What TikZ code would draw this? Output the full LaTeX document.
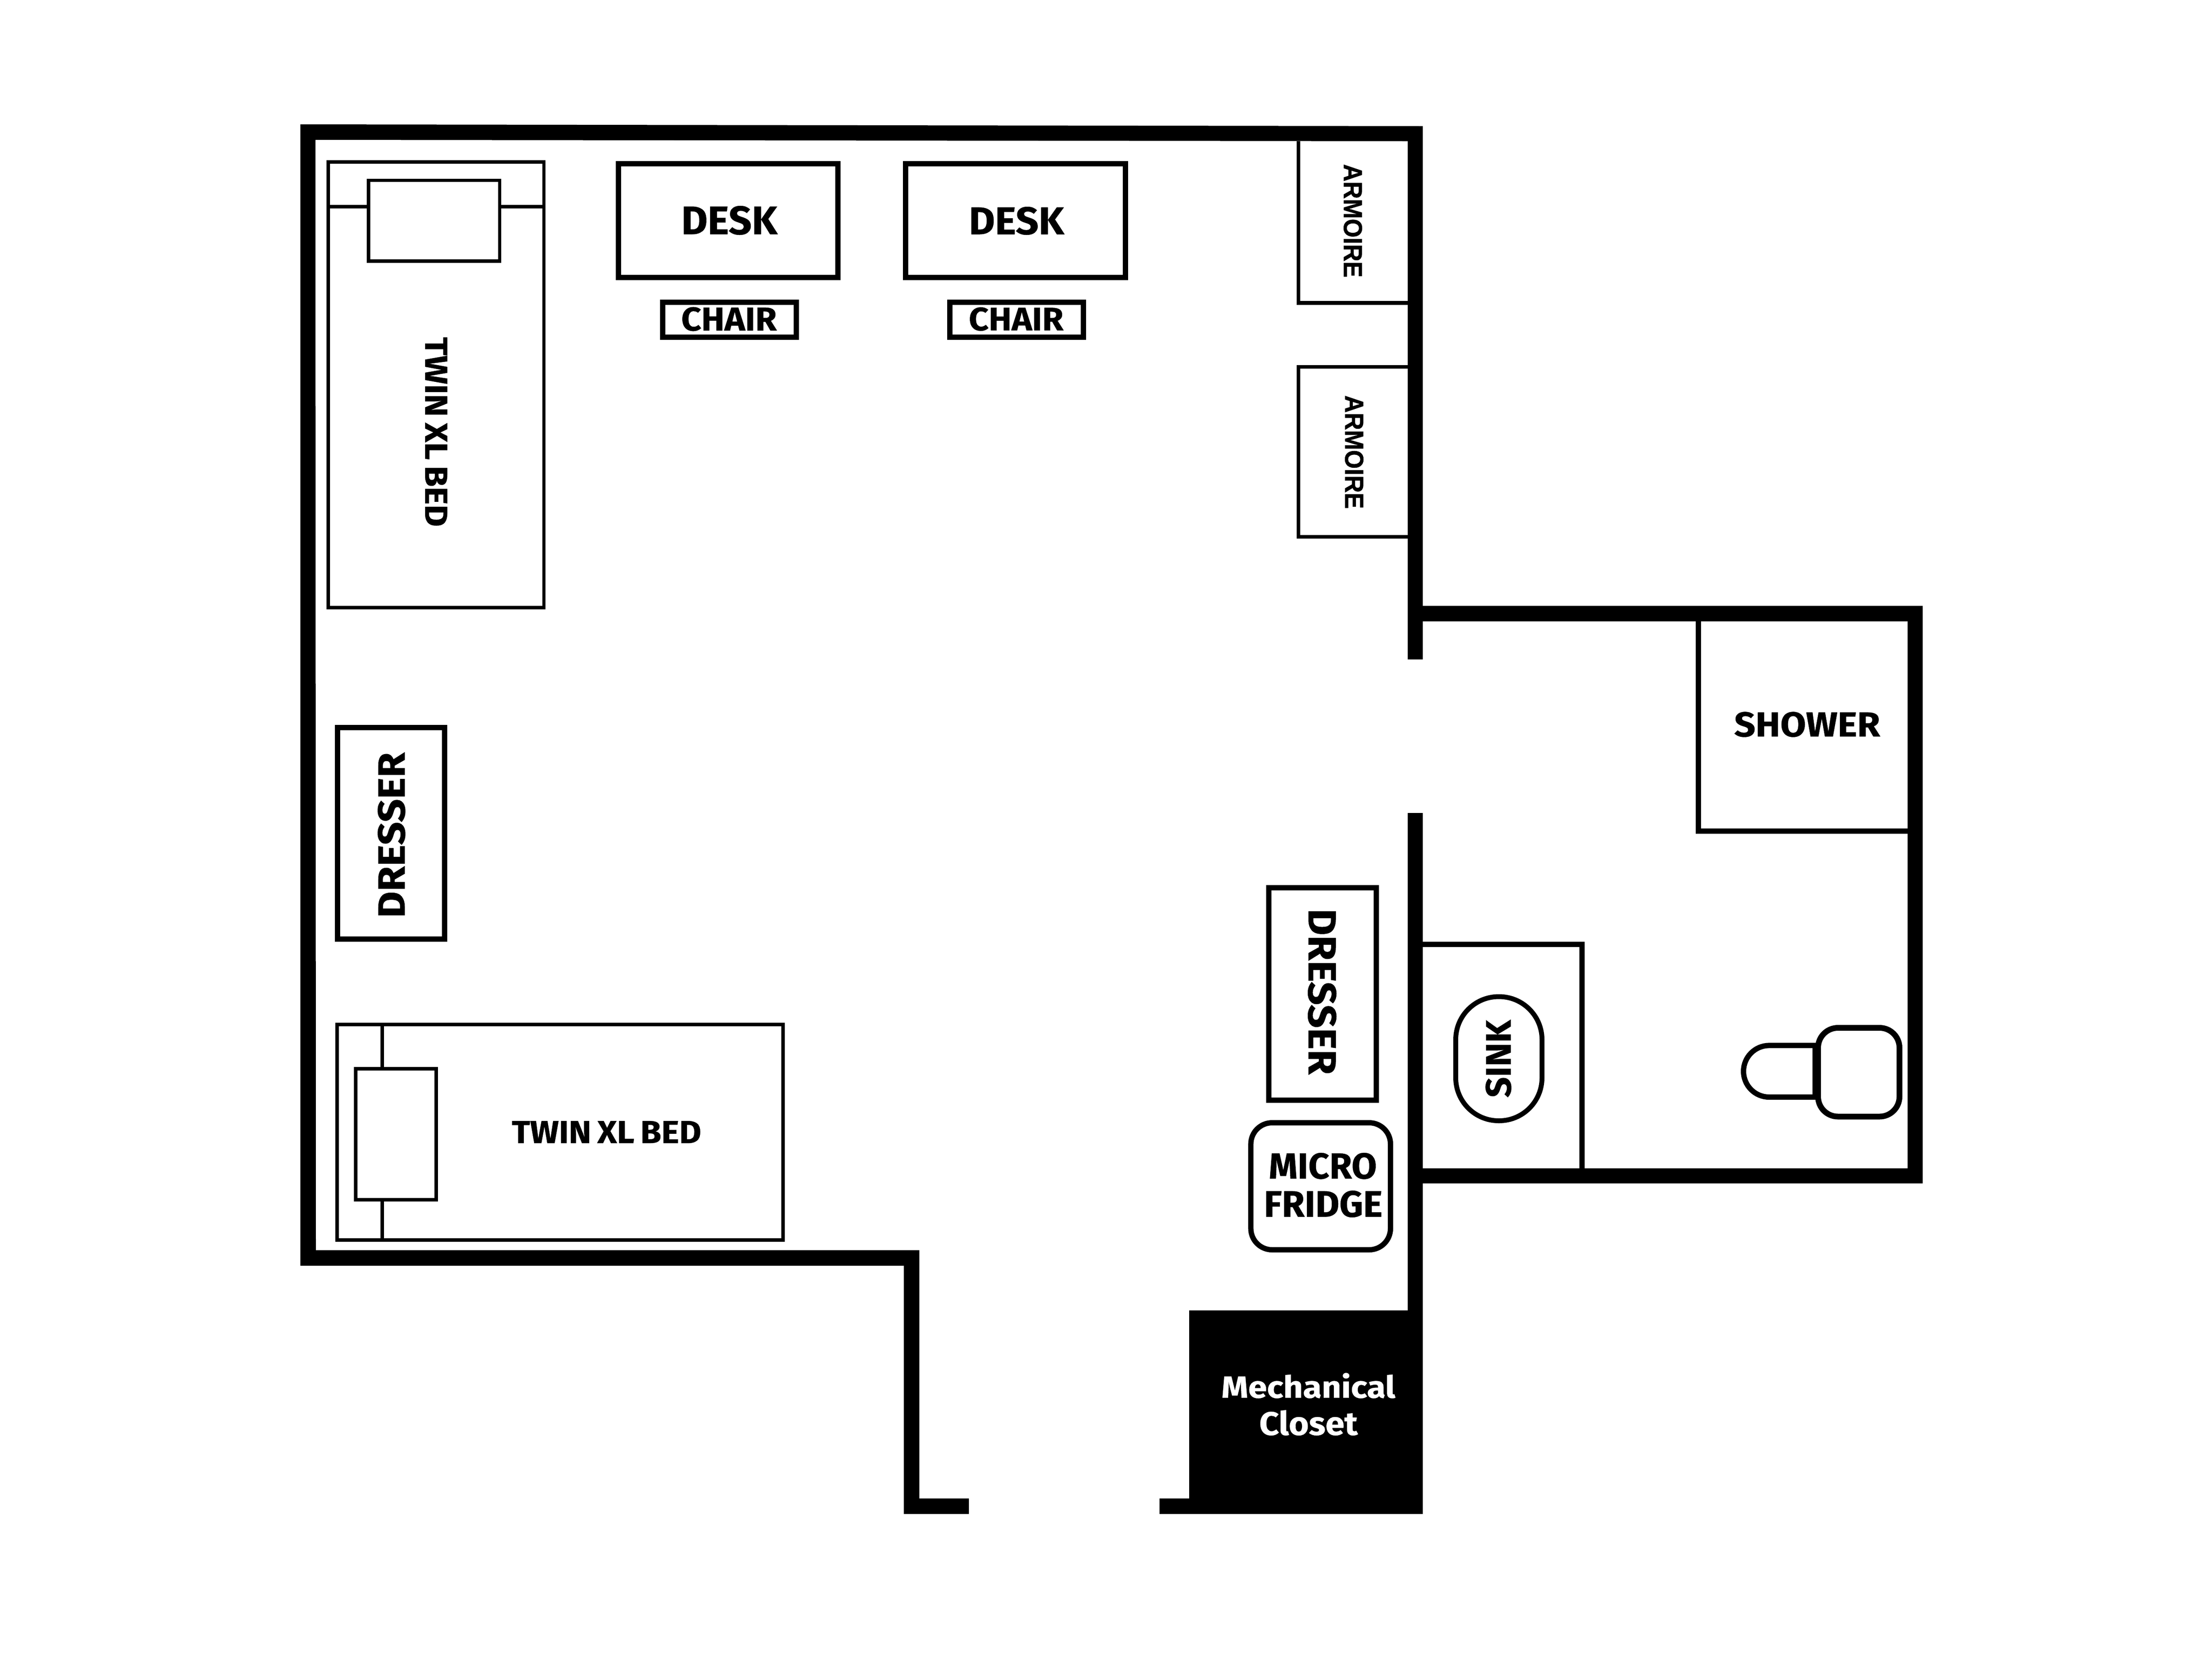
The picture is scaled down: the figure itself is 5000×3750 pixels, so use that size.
\documentclass[tikz,border=0pt]{standalone}
\usepackage{fontspec}
\usepackage{graphicx}
\setmainfont[BoldFeatures={FakeBold=0.5},WordSpace=0.75]{Fira Sans}
\newfontfamily\armfont[BoldFeatures={FakeBold=1.2}]{Liberation Sans}
\newcommand{\lbl}[3]{\resizebox{#1cm}{#2cm}{\textbf{#3}}}
\newcommand{\armlbl}[3]{\resizebox{#1cm}{#2cm}{\armfont\textbf{#3}}}
\tikzset{
  wallfill/.style={fill=black,draw=none},
  thinline/.style={draw=black,line width=0.075cm,line join=miter},
  midline/.style={draw=black,line width=0.12cm,line join=miter},
  labeltext/.style={inner sep=0pt,outer sep=0pt,anchor=center,text=black},
  whitetext/.style={inner sep=0pt,outer sep=0pt,anchor=center,text=white}
}
\begin{document}
\begin{tikzpicture}[x=0.01cm,y=-0.01cm]
\useasboundingbox (0,0) rectangle (5000,3750);
\fill[white] (0,0) rectangle (5000,3750);

% walls
\path[wallfill] (679,281) -- (3216,285) -- (3216,1490) -- (3182,1490) -- (3182,319) -- (713,316)
  -- (714,2825) -- (2078,2825) -- (2078,3386) -- (2190,3386) -- (2190,3421) -- (2043,3421)
  -- (2043,2860) -- (679,2860) -- cycle;
\path[wallfill] (3182,1837) -- (3216,1837) -- (3216,3421) -- (2621,3421) -- (2621,3386)
  -- (2688,3386) -- (2688,2961) -- (3182,2961) -- cycle;
\path[wallfill] (3216,1369) -- (4346,1369) -- (4346,2674) -- (3216,2674) -- (3216,2640)
  -- (4312,2640) -- (4312,1404) -- (3216,1404) -- cycle;

% bed 1
\draw[thinline] (742,366) rectangle (1229.5,1373);
\draw[thinline] (742,467) -- (833,467);
\draw[thinline] (1129.5,467) -- (1229.5,467);
\draw[thinline] (833,407.5) rectangle (1129.5,590);
\node[labeltext,rotate=-90] (bedonetext) at (986,976) {\lbl{4.28}{0.50}{TWIN XL BED}};

% bed 2
\draw[thinline] (762,2315) rectangle (1770,2802);
\draw[thinline] (864,2315) -- (864,2415);
\draw[thinline] (864,2711) -- (864,2802);
\draw[thinline] (804,2415) rectangle (986,2711);
\node[labeltext] (bedtwotext) at (1371,2558) {\lbl{4.28}{0.50}{TWIN XL BED}};

% desks and chairs
\draw[midline] (1398,370) rectangle (1894,627);
\node[labeltext] (deskone) at (1649,498) {\lbl{2.18}{0.64}{DESK}};
\draw[midline] (1498,683) rectangle (1800,762);
\node[labeltext] (chairone) at (1648,721) {\lbl{2.16}{0.53}{CHAIR}};
\draw[midline] (2047,370) rectangle (2544,627);
\node[labeltext] (desktwo) at (2298,499) {\lbl{2.16}{0.62}{DESK}};
\draw[midline] (2147,683) rectangle (2449,762);
\node[labeltext] (chairtwo) at (2297,721) {\lbl{2.14}{0.52}{CHAIR}};

% armoires
\draw[midline,line width=0.083cm] (2935,319) -- (2935,684.5) -- (3182,684.5);
\node[labeltext,rotate=-90] (armone) at (3058,499) {\armlbl{2.56}{0.41}{ARMOIRE}};
\draw[midline,line width=0.083cm] (3182,829) -- (2935,829) -- (2935,1213) -- (3182,1213);
\node[labeltext,rotate=-90] (armtwo) at (3061,1021.5) {\armlbl{2.56}{0.41}{ARMOIRE}};

% dressers
\draw[midline] (763,1643.5) rectangle (1005,2122);
\node[labeltext,rotate=90] (dresserone) at (885,1887) {\lbl{3.74}{0.61}{DRESSER}};
\draw[midline] (2867.5,2005.5) rectangle (3111,2485.7);
\node[labeltext,rotate=-90] (dressertwo) at (2988.5,2241) {\lbl{3.75}{0.63}{DRESSER}};

% micro fridge
\draw[midline,rounded corners=0.48cm] (2827.4,2537) rectangle (3143,2824);
\node[labeltext] (micro) at (2990,2634.7) {\lbl{2.44}{0.58}{MICRO}};
\node[labeltext] (fridge) at (2991,2720.5) {\lbl{2.68}{0.59}{FRIDGE}};

% closet label
\node[whitetext] (mech) at (2957.5,3131) {\lbl{3.93}{0.56}{Mechanical}};
\node[whitetext] (closet) at (2958,3215) {\lbl{2.23}{0.56}{Closet}};

% shower
\draw[midline] (3839,1404) -- (3839,1877.6) -- (4312,1877.6);
\node[labeltext] (shower) at (4085,1637) {\lbl{3.30}{0.555}{SHOWER}};

% sink
\draw[midline] (3216,2134) -- (3576,2134) -- (3576,2640);
\draw[midline,line width=0.11cm,rounded corners=0.97cm] (3290.5,2252) rectangle (3485.5,2532.5);
\node[labeltext,rotate=90] (sink) at (3387,2392) {\lbl{1.76}{0.57}{SINK}};

% toilet
\draw[midline] (4103,2362.4) -- (3999,2362.4) .. controls (3967,2362.4) and (3941,2388.5) .. (3941,2420.7)
  .. controls (3941,2453) and (3967,2479) .. (3999,2479) -- (4103,2479) -- cycle;
\draw[midline,line width=0.13cm,rounded corners=0.45cm] (4109.5,2322.5) rectangle (4293.5,2523);
\end{tikzpicture}
\end{document}
